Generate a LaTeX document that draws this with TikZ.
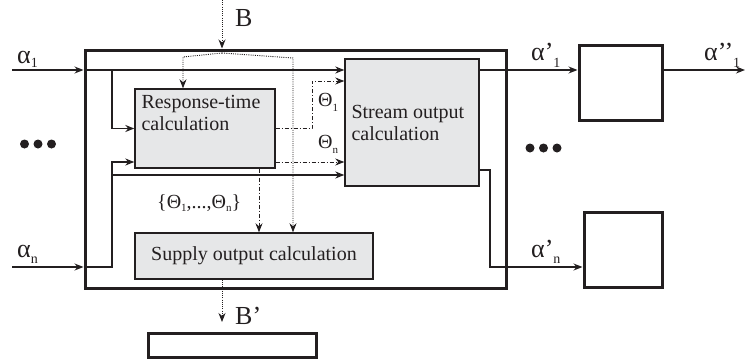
\documentclass[tikz,border=0pt]{standalone}
\usepackage{fontspec}
\setmainfont{Liberation Serif}
\usetikzlibrary{arrows.meta}
\definecolor{ink}{HTML}{231F20}
\definecolor{boxgray}{HTML}{E6E7E8}
\tikzset{
  block/.style={draw=ink, fill=boxgray, line width=1.4pt, inner sep=0pt},
  frame/.style={draw=ink, line width=3pt, inner sep=0pt},
  flow/.style={draw=ink, line width=1.2pt, -{Stealth[length=9pt,width=7pt]}},
  theta/.style={flow, line width=0.9pt, dash pattern=on 4pt off 2pt on 1pt off 2pt},
  budget/.style={flow, line width=0.9pt, dash pattern=on 1pt off 1.2pt},
  lab/.style={anchor=base west, inner sep=0pt, text=ink, font=\fontsize{26}{26}\selectfont},
  tlab/.style={anchor=base west, inner sep=0pt, text=ink, font=\fontsize{20}{20}\selectfont},
}
\newcommand{\lowidx}[2]{\raisebox{#1}{\fontsize{14}{14}\selectfont #2}}
\newcommand{\thidx}[2]{\raisebox{#1}{\fontsize{11}{11}\selectfont #2}}

\begin{document}
\begin{tikzpicture}[x=1pt, y=-1pt, font=\fontsize{20}{22}\selectfont, text=ink]
    \useasboundingbox (0,0) rectangle (748,362);
    % component and its three calculations
    \node[frame, minimum width=421, minimum height=238] (sys) at (295.5,169) {};
    \node[block, minimum width=140, minimum height=79,
          label={[anchor=north west, align=left, inner sep=0pt, xshift=7pt, yshift=-7pt]north west:Response-time\\calculation}] (resp) at (205,128.5) {};
    \node[block, minimum width=134, minimum height=127,
          label={[anchor=west, align=left, inner sep=0pt, xshift=7pt, yshift=0pt]west:Stream output\\calculation}] (stream) at (412,122.5) {};
    \node[block, minimum width=238, minimum height=46] (supply) at (254,256) {Supply output calculation};
    % following components
    \node[frame, minimum width=83, minimum height=75] (out1) at (620.5,82.5) {};
    \node[frame, minimum width=78, minimum height=75] (outn) at (623,249.5) {};
    \node[frame, minimum width=168, minimum height=24] (bout) at (232,345) {};

    % end points and bends
    \coordinate (a1in) at (12,70);
    \coordinate (anin) at (12,267);
    \coordinate (j1) at (112,70);
    \coordinate (lowin) at (112,162);
    \coordinate (midin) at (112,175);
    \coordinate (t1) at (312,81);
    \coordinate (tall) at (259,0);
    \coordinate (bin) at (222,0);
    \coordinate (bsplit) at (222,53);
    \coordinate (bl) at (183,57);
    \coordinate (br) at (293,58);
    \coordinate (bend) at (222,322);
    \coordinate (a1out) at (745,70);
    \coordinate (sn) at (490,170);

    % input streams
    \draw[flow] (a1in) -- (sys.west |- a1in);
    \draw[flow] (sys.west |- a1in) -- (stream.west |- a1in);
    \draw[flow] (j1) |- (resp.west);
    \draw[flow] (anin) -- (sys.west |- anin);
    \draw[flow] (sys.west |- anin) -| (lowin) -- (resp.west |- lowin);
    \draw[flow] (midin) -- (stream.west |- midin);

    % response times
    \draw[theta] (resp.east) -| (t1) -- (stream.west |- t1);
    \draw[theta] (resp.east |- lowin) -- (stream.west |- lowin);
    \draw[theta] (resp.south -| tall) -- (supply.north -| tall);

    % resource supply
    \draw[budget] (bin) -- (sys.north -| bin);
    \draw[budget] (bsplit) -- (bl) -- (resp.north -| bl);
    \draw[budget] (bsplit) -- (br) -- (supply.north -| br);
    \draw[budget] (supply.south -| bend) -- (bend);

    % output streams
    \draw[flow] (stream.east |- a1in) -- (out1.west |- a1in);
    \draw[flow] (out1.east |- a1in) -- (a1out);
    \draw[flow] (stream.east |- sn) -- (sn) |- (outn.west |- anin);

    % labels
    \node[lab] (lbB) at (235,26) {B};
    \node[lab] (lbB2) at (235,324) {B’};
    \node[lab] (la1) at (17,63) {α\lowidx{-4pt}{1}};
    \node[lab] (lan) at (17,257) {α\lowidx{-6pt}{n}};
    \node[lab] (lo1) at (531,60) {α’\lowidx{-7pt}{1}};
    \node[lab] (loo1) at (704,60) {α’’\lowidx{-7pt}{1}};
    \node[lab] (lon) at (531,257) {α’\lowidx{-6pt}{n}};
    \node[tlab] (lt1) at (318,106) {Θ\thidx{-5pt}{1}};
    \node[tlab] (ltn) at (318,148) {Θ\thidx{-5pt}{n}};
    \node[tlab] (ltall) at (157,208) {\{Θ\thidx{-3pt}{1},...,Θ\thidx{-3pt}{n}\}};

    % more streams
    \foreach \x in {24.5,38,51.5}
        \fill[ink] (\x,144) circle (4.5);
    \foreach \x in {530,543.5,557}
        \fill[ink] (\x,148) circle (4.5);
\end{tikzpicture}
\end{document}
